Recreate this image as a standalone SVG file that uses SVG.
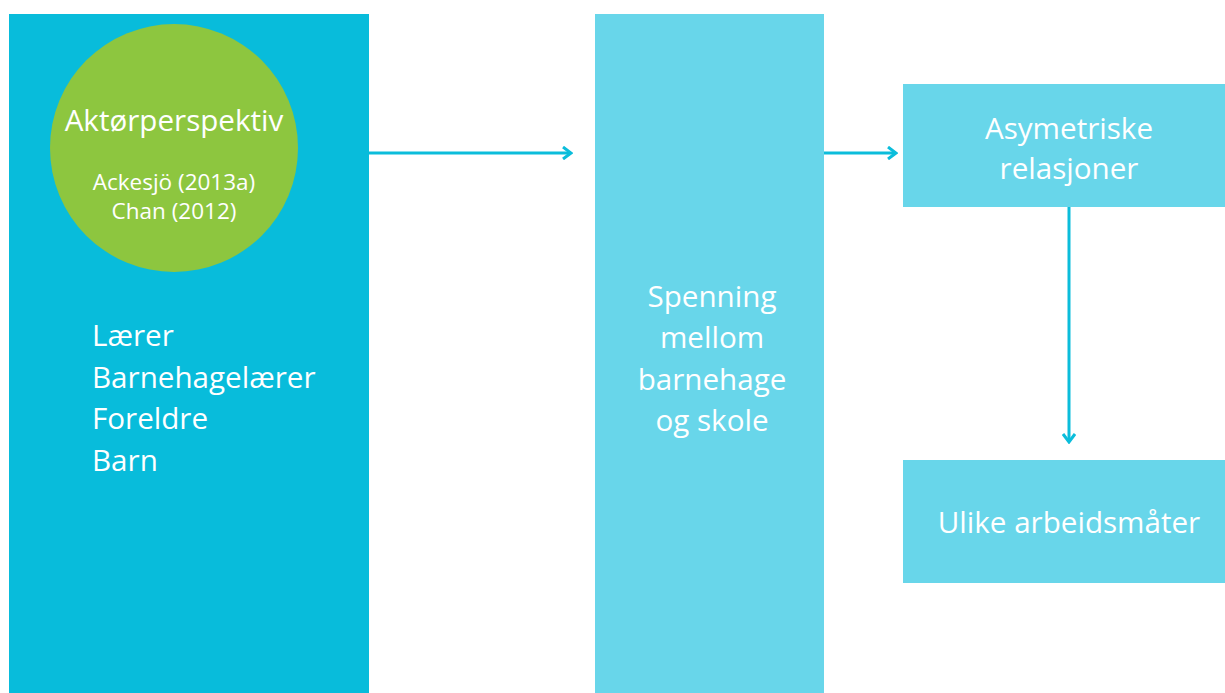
<svg xmlns="http://www.w3.org/2000/svg" width="1225" height="693" viewBox="0 0 1225 693">
<style>
text{font-family:"Open Sans","Liberation Sans",sans-serif;fill:#fff}
.big{font-size:29.6px}
.small{font-size:22.5px}
.c{text-anchor:middle}
.conn{stroke:#0bbddb;stroke-width:3;fill:none}
</style>
<defs>
<marker id="chev" markerWidth="12" markerHeight="14" refX="10" refY="7" orient="auto" markerUnits="userSpaceOnUse">
<path d="M2,1 L10,7 L2,13" fill="none" stroke="#0bbddb" stroke-width="3"/>
</marker>
</defs>
<rect width="1225" height="693" fill="#fff"/>
<g id="actors">
<rect x="9" y="14" width="360" height="679" fill="#08bcdb"/>
<text class="big" x="92" y="346">Lærer</text>
<text class="big" x="92" y="388">Barnehagelærer</text>
<text class="big" x="92" y="429">Foreldre</text>
<text class="big" x="92" y="471">Barn</text>
</g>
<g id="perspective">
<circle cx="174" cy="148" r="124" fill="#8dc63f"/>
<text class="big c" x="174" y="131">Aktørperspektiv</text>
<text class="small c" x="174" y="190">Ackesjö (2013a)</text>
<text class="small c" x="174" y="219">Chan (2012)</text>
</g>
<g id="tension">
<rect x="595" y="14" width="229" height="679" fill="#68d6ea"/>
<text class="big c" x="712" y="307">Spenning</text>
<text class="big c" x="712" y="348">mellom</text>
<text class="big c" x="712" y="390">barnehage</text>
<text class="big c" x="712" y="431">og skole</text>
</g>
<g id="asym">
<rect x="903" y="84" width="322" height="123" fill="#68d6ea"/>
<text class="big c" x="1069" y="139">Asymetriske</text>
<text class="big c" x="1069" y="179">relasjoner</text>
</g>
<g id="ulike">
<rect x="903" y="460" width="322" height="123" fill="#68d6ea"/>
<text class="big c" x="1069" y="533">Ulike arbeidsmåter</text>
</g>
<g id="connectors">
<line class="conn" x1="369" y1="153" x2="571" y2="153" marker-end="url(#chev)"/>
<line class="conn" x1="824" y1="153" x2="896" y2="153" marker-end="url(#chev)"/>
<line class="conn" x1="1069" y1="207" x2="1069" y2="442" marker-end="url(#chev)"/>
</g>
</svg>
